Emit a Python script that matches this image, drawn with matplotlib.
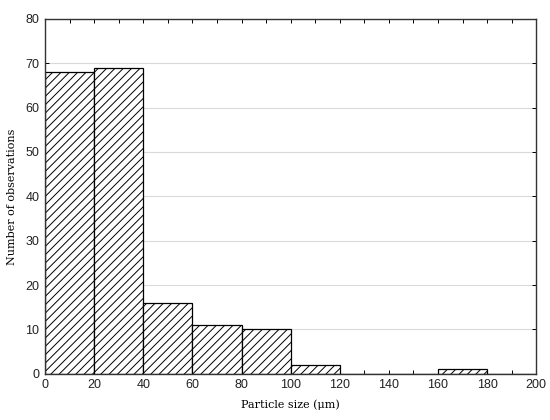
import matplotlib
matplotlib.use("Agg")
import matplotlib.pyplot as plt
import numpy as np

bin_edges = [0, 20, 40, 60, 80, 100, 120, 140, 160, 180, 200]
counts = [68, 69, 16, 11, 10, 2, 0, 0, 1, 0]

plt.rcParams['hatch.linewidth'] = 0.7

fig = plt.figure(figsize=(5.5, 4.2), dpi=100)
ax = fig.add_axes([0.082, 0.110, 0.893, 0.845])

ax.yaxis.grid(True, color='#dadada', linewidth=0.8)
ax.set_axisbelow(True)

lefts = np.array(bin_edges[:-1])
widths = np.diff(bin_edges)
ax.bar(lefts, counts, width=widths, align='edge', color='white',
       edgecolor='black', linewidth=0.9, hatch='////', zorder=2)

ax.set_xlim(0, 200)
ax.set_ylim(0, 80)
ax.set_xticks(range(0, 201, 20))
ax.set_xticks(range(10, 200, 20), minor=True)
ax.set_yticks(range(0, 81, 10))

ax.tick_params(axis='both', which='both', direction='in', top=True, right=True,
               length=3, width=0.7, labelsize=9, pad=4)
for lab in ax.get_xticklabels() + ax.get_yticklabels():
    lab.set_fontfamily('Liberation Sans')
    lab.set_color('#222222')

for sp in ax.spines.values():
    sp.set_linewidth(1.0)
    sp.set_color('#333333')

ax.set_xlabel("Particle size (\u03bcm)", family='DejaVu Serif', fontsize=8, labelpad=6)
ax.set_ylabel("Number of observations", family='DejaVu Serif', fontsize=8, labelpad=6)

fig.savefig("out.png", dpi=100)
